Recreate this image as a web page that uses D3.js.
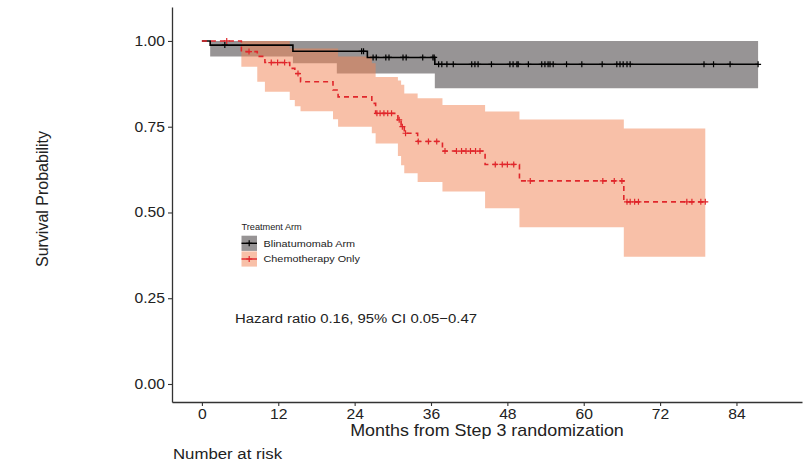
<!DOCTYPE html>
<html>
<head>
<meta charset="utf-8">
<script src="https://cdn.jsdelivr.net/npm/d3@7"></script>
<style>
  html,body{margin:0;padding:0;background:#fff}
  svg{display:block;font-family:"Liberation Sans",Arial,Helvetica,sans-serif}
</style>
</head>
<body>
<div id="chart"></div>
<script>
// KM curves (months, survival)
var blinaTime  = [0, 1.3, 14.3, 21.2, 26.0, 36.6, 87.4];
var blinaSurv  = [1.0, 0.988, 0.970, 0.970, 0.952, 0.932, 0.932];
var blinaLower = [1.0, 0.955, 0.935, 0.905, 0.905, 0.862, 0.862];
var blinaUpper = [1.0, 1.0, 1.0, 1.0, 1.0, 1.0, 1.0];
var blinaCensor = [3.6, 25.1, 25.4, 26.9, 27.4, 28.9, 29.4, 31.6, 32.1, 34.7, 36.3, 36.5,
  37.2, 37.7, 38.5, 39.5, 42.4, 42.9, 43.4, 45.5, 48.4, 48.9, 49.5, 49.7, 51.3, 53.4, 53.9,
  54.4, 54.7, 55.2, 57.3, 59.7, 62.9, 65.2, 65.7, 66.2, 66.8, 67.3, 78.9, 80.4, 83.0, 87.4];

var chemoTime  = [0, 6.2, 8.7, 9.9, 13.8, 14.6, 15.5, 20.6, 21.4, 26.7, 27.3, 30.8, 31.3, 31.8, 33.9, 37.8, 44.5, 49.9, 66.3, 79.1];
var chemoSurv  = [1.0, 0.969, 0.955, 0.937, 0.920, 0.905, 0.881, 0.857, 0.837, 0.818, 0.789, 0.770, 0.750, 0.731, 0.707, 0.679, 0.640, 0.592, 0.531, 0.531];
var chemoLower = [1.0, 0.925, 0.881, 0.852, 0.828, 0.810, 0.795, 0.772, 0.750, 0.731, 0.701, 0.665, 0.638, 0.614, 0.589, 0.561, 0.512, 0.457, 0.371, 0.371];
var chemoUpper = [1.0, 1.0, 1.0, 1.0, 0.978, 0.978, 0.978, 0.978, 0.955, 0.935, 0.895, 0.885, 0.872, 0.847, 0.833, 0.813, 0.794, 0.771, 0.745, 0.745];
var chemoCensor = [3.9, 7.4, 10.9, 11.9, 13.0, 15.1, 27.5, 28.0, 28.6, 29.2, 29.8, 31.0, 31.5,
  32.0, 34.0, 35.6, 36.9, 38.2, 40.0, 40.8, 41.5, 42.2, 43.0, 43.7, 46.1, 47.2, 48.0, 49.0,
  51.6, 63.0, 64.8, 66.0, 66.8, 67.3, 68.0, 68.6, 76.2, 77.0, 78.4, 79.1];

var xTicks = [0, 12, 24, 36, 48, 60, 72, 84];
var yTicks = [0, 0.25, 0.5, 0.75, 1.0];
var legendLabels = ['Blinatumomab Arm', 'Chemotherapy Only'];

var W=810, H=464, SX=1.12; // text in the source is a bit wide
var C={axis:'#333', text:'#222', gray:'#979495', salmon:'rgb(241,129,81)', red:'#e0262b'};

var svg=d3.select('#chart').append('svg').attr('width',W).attr('height',H);

var x=d3.scaleLinear().domain([-4.7,94.3]).range([172,802]);
var y=d3.scaleLinear().domain([-0.0525,1.099]).range([402,7]);

function rows(t,s,lo,hi){return t.map(function(d,i){return {t:d,s:s[i],lo:lo[i],hi:hi[i]}})}
var blina=rows(blinaTime,blinaSurv,blinaLower,blinaUpper);
var chemo=rows(chemoTime,chemoSurv,chemoLower,chemoUpper);

function survAt(data,t){var v=data[0].s;data.forEach(function(d){if(d.t<=t)v=d.s});return v}
function wide(sel){sel.each(function(){var el=d3.select(this),xx=+el.attr('x')||0;el.attr('x',xx/SX).attr('transform',function(){var t=el.attr('transform')||'';return t+' scale('+SX+',1)'})})}

var area=d3.area().curve(d3.curveStepAfter).x(function(d){return x(d.t)}).y0(function(d){return y(d.lo)}).y1(function(d){return y(d.hi)});
var line=d3.line().curve(d3.curveStepAfter).x(function(d){return x(d.t)}).y(function(d){return y(d.s)});

// ribbons
svg.append('path').datum(blina).attr('d',area).attr('fill',C.gray);
svg.append('path').datum(chemo).attr('d',area).attr('fill',C.salmon).attr('fill-opacity',0.5);

// curves
svg.append('path').datum(blina).attr('d',line).attr('fill','none').attr('stroke','#000').attr('stroke-width',1.6);
svg.append('path').datum(chemo).attr('d',line).attr('fill','none').attr('stroke',C.red).attr('stroke-width',1.6).attr('stroke-dasharray','5,4');

var plus='M-3,0H3M0,-3V3';
svg.append('g').selectAll('path').data(blinaCensor).join('path').attr('d',plus)
  .attr('transform',function(d){return 'translate('+x(d)+','+y(survAt(blina,d))+')'})
  .attr('stroke','#000').attr('stroke-width',1.2).attr('fill','none');
svg.append('g').selectAll('path').data(chemoCensor).join('path').attr('d',plus)
  .attr('transform',function(d){return 'translate('+x(d)+','+y(survAt(chemo,d))+')'})
  .attr('stroke',C.red).attr('stroke-width',1.2).attr('fill','none');

// axes
var ax=svg.append('g').attr('transform','translate(0,402)')
  .call(d3.axisBottom(x).tickValues(xTicks).tickSize(4).tickSizeOuter(0));
var ay=svg.append('g').attr('transform','translate(172,0)')
  .call(d3.axisLeft(y).tickValues(yTicks).tickFormat(d3.format('.2f')).tickSize(4).tickSizeOuter(0));
[ax,ay].forEach(function(a){
  a.select('.domain').attr('stroke',C.axis).attr('stroke-width',1.3);
  a.selectAll('.tick line').attr('stroke',C.axis).attr('stroke-width',1.1);
  a.selectAll('.tick text').attr('fill',C.text).attr('font-size',14).attr('font-family','"Liberation Sans",Arial,sans-serif').call(wide);
});

// titles
svg.append('text').attr('x',487).attr('y',436).attr('text-anchor','middle').attr('font-size',16).attr('fill',C.text)
  .attr('transform','translate(487,0) scale('+SX+',1) translate(-487,0)').text('Months from Step 3 randomization');
svg.append('text').attr('transform','translate(48,199) rotate(-90)').attr('text-anchor','middle').attr('font-size',16).attr('fill',C.text).text('Survival Probability');
svg.append('text').attr('x',173).attr('y',459).attr('font-size',15).attr('fill',C.text).call(wide).text('Number at risk');
svg.append('text').attr('x',235).attr('y',323).attr('font-size',13.3).attr('fill',C.text).call(wide).text('Hazard ratio 0.16, 95% CI 0.05\u22120.47');

// legend
var lg=svg.append('g');
lg.append('text').attr('x',241.5).attr('y',229.7).attr('font-size',8.2).attr('fill',C.text).call(wide).text('Treatment Arm');
var keyFill=[C.gray,'rgb(248,192,168)'], keyStroke=['#000',C.red];
legendLabels.forEach(function(lab,i){
  var cy=243.3+i*15.7;
  lg.append('rect').attr('x',241.5).attr('y',cy-7.6).attr('width',15.5).attr('height',15.2).attr('fill',keyFill[i]);
  lg.append('line').attr('x1',241.5).attr('x2',257).attr('y1',cy).attr('y2',cy).attr('stroke',keyStroke[i]).attr('stroke-width',1.4);
  lg.append('path').attr('d',plus).attr('transform','translate(249.2,'+cy+')').attr('stroke',keyStroke[i]).attr('stroke-width',1.2);
  lg.append('text').attr('x',263.5).attr('y',cy+3.5).attr('font-size',9.7).attr('fill',C.text).call(wide).text(lab);
});
</script>
</body>
</html>
